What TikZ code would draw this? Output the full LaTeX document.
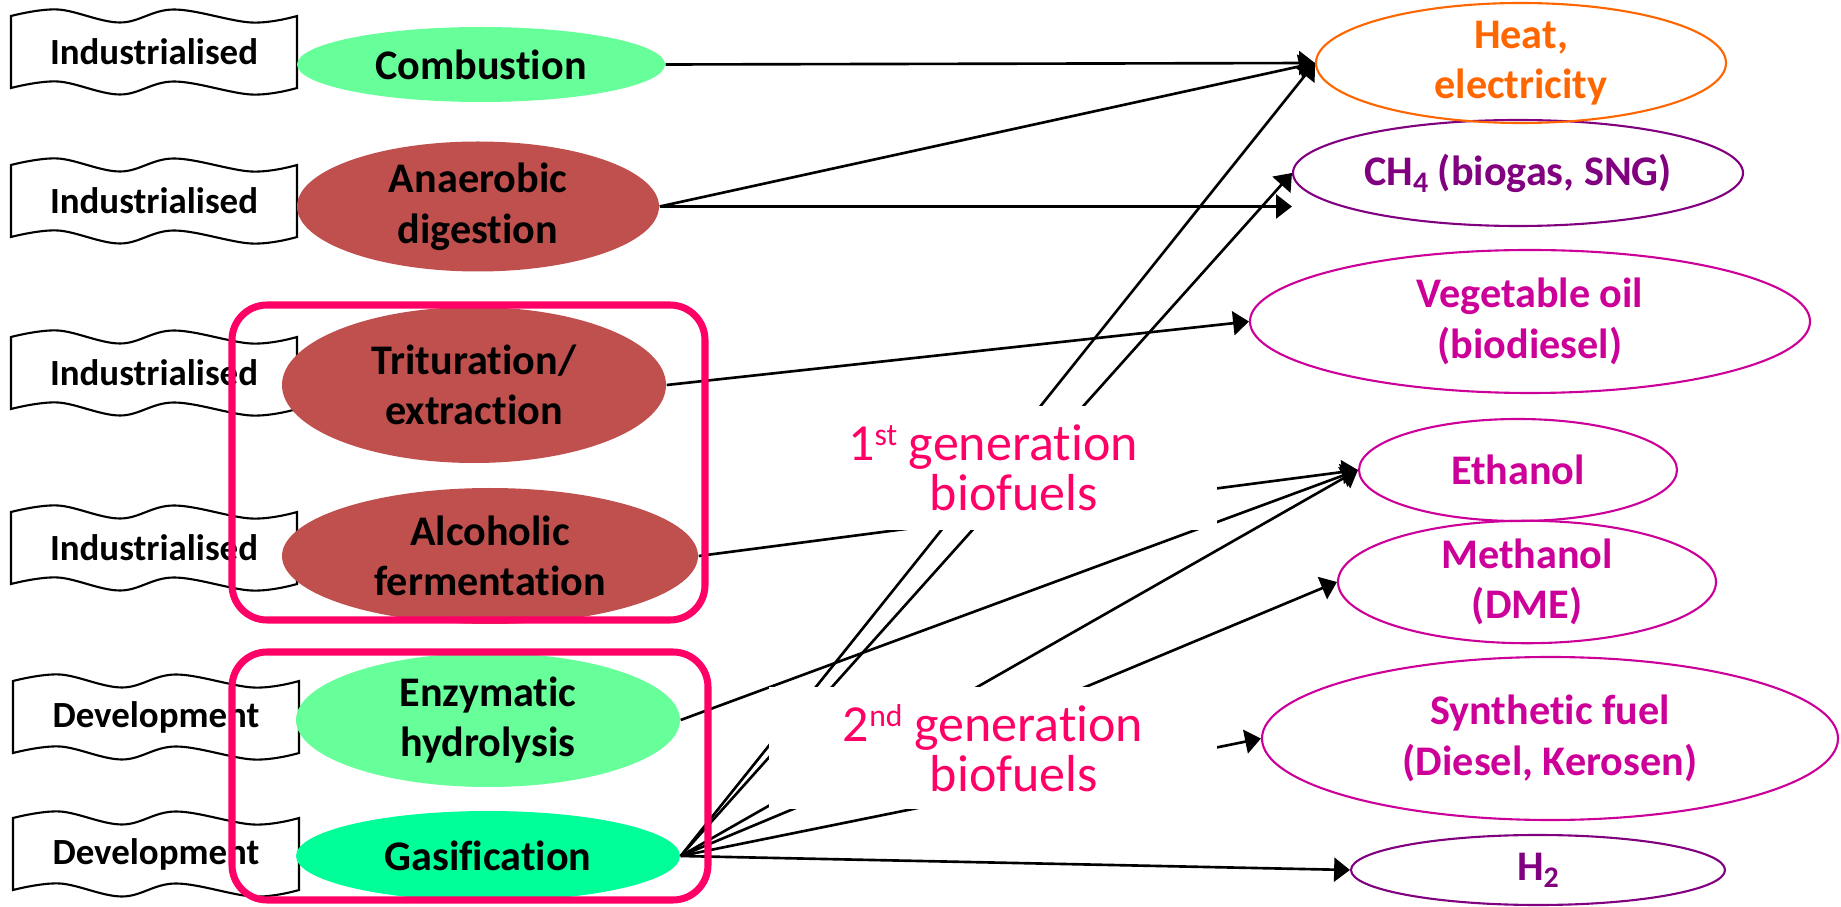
\documentclass[tikz,border=0pt]{standalone}
\usepackage{fontspec}
\setmainfont{Carlito}[Ligatures=CommonOff]
\usetikzlibrary{shapes.geometric,arrows.meta}

\definecolor{greenA}{RGB}{102,255,153}
\definecolor{greenB}{RGB}{0,255,153}
\definecolor{brick}{RGB}{192,80,77}
\definecolor{heatorange}{RGB}{255,102,0}
\definecolor{fuelpurple}{RGB}{128,0,128}
\definecolor{fuelmagenta}{RGB}{204,0,153}
\definecolor{genpink}{RGB}{255,0,102}

\newcommand\wavebox[1]{\draw[line width=0.6pt, shift={(#1)}] plot[smooth, tension=0.6] coordinates {(-1.43,0.36) (-0.96,0.425) (-0.34,0.295) (0.20,0.425) (0.97,0.295) (1.43,0.36)} -- plot[smooth, tension=0.6] coordinates {(1.43,-0.36) (0.97,-0.425) (0.20,-0.295) (-0.34,-0.425) (-0.96,-0.295) (-1.43,-0.36)} -- cycle;}
\newcommand\gensup[1]{\raisebox{4.3pt}{\fontsize{9}{9}\selectfont #1}}
\newcommand\chemsub[1]{\raisebox{-2pt}{\fontsize{8.5}{9}\selectfont #1}}

\begin{document}
\begin{tikzpicture}[maturity/.style={font=\fontsize{10.5}{12}\selectfont\bfseries},
  process/.style={ellipse, inner sep=0pt, align=center, font=\fontsize{12}{14.4}\selectfont\bfseries},
  product/.style={ellipse, draw, line width=0.6pt, inner sep=0pt, align=center, font=\fontsize{12}{14.4}\selectfont\bfseries},
  flow/.style={line width=0.75pt, -{Triangle[length=4.5pt,width=6.8pt]}},
  genframe/.style={draw=genpink, line width=2pt, rounded corners=0.35cm, inner sep=0pt},
  genlabel/.style={fill=white, text=genpink, inner sep=0pt, align=center, minimum width=4.48cm, font=\fontsize{14.8}{14.2}\selectfont}]
\useasboundingbox (0,0) rectangle (18.41,-9.07);

\node[maturity] (lab1) at (1.54,-0.52) {Industrialised};
\node[maturity] (lab2) at (1.54,-2.01) {Industrialised};
\node[maturity] (lab3) at (1.54,-3.73) {Industrialised};
\node[maturity] (lab4) at (1.54,-5.48) {Industrialised};
\node[maturity] (lab5) at (1.56,-7.17) {Development};
\node[maturity] (lab6) at (1.56,-8.54) {Development};
\foreach \lab in {lab1,lab2,lab3,lab4,lab5,lab6} \wavebox{\lab};

\node[process, fill=greenA, minimum width=3.68cm, minimum height=0.75cm] (comb) at (4.81,-0.645) {Combustion};
\node[process, fill=brick, minimum width=3.62cm, minimum height=1.30cm] (anaer) at (4.78,-2.065) {Anaerobic\\digestion};
\node[process, fill=brick, minimum width=3.84cm, minimum height=1.56cm] (trit) at (4.74,-3.85) {Trituration/\\extraction};
\node[process, fill=brick, minimum width=4.16cm, minimum height=1.36cm] (alco) at (4.90,-5.56) {Alcoholic\\fermentation};
\node[process, fill=greenA, minimum width=3.84cm, minimum height=1.34cm] (enz) at (4.88,-7.20) {Enzymatic\\hydrolysis};
\node[process, fill=greenB, minimum width=3.84cm, minimum height=0.90cm] (gasi) at (4.88,-8.56) {Gasification};

\node[product, draw=fuelpurple, text=fuelpurple, minimum width=4.50cm, minimum height=1.06cm] (ch4) at (15.18,-1.73) {CH\chemsub{4} (biogas, SNG)};
\node[product, draw=heatorange, text=heatorange, minimum width=4.10cm, minimum height=1.20cm] (heat) at (15.21,-0.63) {Heat,\\electricity};
\node[product, draw=fuelmagenta, text=fuelmagenta, minimum width=5.60cm, minimum height=1.43cm] (veg) at (15.30,-3.215) {Vegetable oil\\(biodiesel)};
\node[product, draw=fuelmagenta, text=fuelmagenta, minimum width=3.18cm, minimum height=1.02cm] (eth) at (15.18,-4.70) {Ethanol};
\node[product, draw=fuelmagenta, text=fuelmagenta, minimum width=3.78cm, minimum height=1.18cm] (meth) at (15.27,-5.82) {Methanol\\(DME)};
\node[product, draw=fuelmagenta, text=fuelmagenta, minimum width=5.76cm, minimum height=1.63cm] (syn) at (15.50,-7.385) {Synthetic fuel\\(Diesel, Kerosen)};
\node[product, draw=fuelpurple, text=fuelpurple, minimum width=3.74cm, minimum height=0.70cm] (h2) at (15.38,-8.70) {H\chemsub{2}};

\draw[flow] (comb.east) -- (heat.west);
\draw[flow] (anaer.east) -- (heat.west);
\draw[flow] (anaer.east) -- (anaer.east -| ch4.west);
\draw[flow] (trit.east) -- (veg.west);
\draw[flow] (alco.east) -- (eth.west);
\draw[flow] (enz.east) -- (eth.west);
\foreach \fuel in {heat,ch4,eth,meth,syn,h2} \draw[flow] (gasi.east) -- (\fuel.west);

\node[genframe, minimum width=4.73cm, minimum height=3.15cm] (gen1box) at (4.685,-4.625) {};
\node[genframe, minimum width=4.76cm, minimum height=2.48cm] (gen2box) at (4.70,-7.76) {};

\node[genlabel, minimum height=1.24cm] (gen1) at (9.93,-4.68) {1\gensup{st} generation\\\hspace*{0.42cm}biofuels};
\node[genlabel, minimum height=1.22cm] (gen2) at (9.93,-7.48) {2\gensup{nd} generation\\\hspace*{0.42cm}biofuels};
\end{tikzpicture}
\end{document}
